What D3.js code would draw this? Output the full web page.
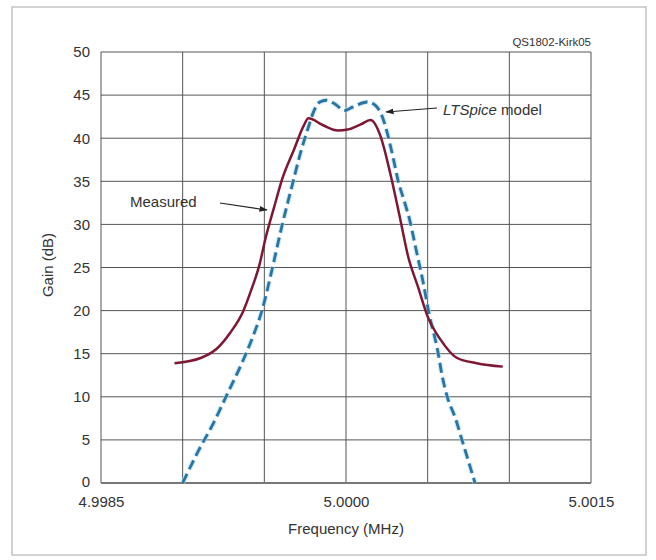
<!DOCTYPE html>
<html>
<head>
<meta charset="utf-8">
<script src="https://cdn.jsdelivr.net/npm/d3@7"></script>
<style>
  body { margin: 0; background: #fff; }
  svg text { font-family: "Liberation Sans", Arial, sans-serif; fill: #333; }
</style>
</head>
<body>
<svg id="chart" width="656" height="560"></svg>
<script>
// tick values
var freqGrid = [4.9985, 4.9990, 4.9995, 5.0000, 5.0005, 5.0010, 5.0015];
var freqLabels = [4.9985, 5.0000, 5.0015];
var gainTicks = [0, 5, 10, 15, 20, 25, 30, 35, 40, 45, 50];

// measured response (MHz, dB)
var measuredFreq = [4.99895, 4.99911, 4.99921, 4.99929, 4.99937, 4.99942, 4.99947, 4.99951,
  4.99956, 4.99961, 4.99968, 4.99974, 4.99977, 4.99986, 4.99995, 5.00001, 5.00009, 5.00015,
  5.00021, 5.00027, 5.00033, 5.00038, 5.00044, 5.00050, 5.00058, 5.00068, 5.00080, 5.00096];
var measuredGain = [13.9, 14.5, 15.6, 17.4, 19.9, 22.4, 25.3, 28.6,
  32.0, 35.3, 38.6, 41.4, 42.3, 41.5, 40.9, 41.0, 41.6, 42.1,
  40.3, 36.0, 30.8, 26.3, 22.8, 19.3, 16.6, 14.5, 13.9, 13.5];

// LTSpice model (MHz, dB)
var spiceFreq = [4.99900, 4.99909, 4.99919, 4.99928, 4.99936, 4.99942, 4.99949, 4.99955,
  4.99961, 4.99967, 4.99972, 4.99977, 4.99980, 4.99984, 4.99988, 4.99993, 4.99999, 5.00004,
  5.00013, 5.00018, 5.00022, 5.00025, 5.00029, 5.00032, 5.00036, 5.00039, 5.00043, 5.00047,
  5.00051, 5.00056, 5.00059, 5.00062, 5.00067, 5.00071, 5.00079];
var spiceGain = [0, 3.5, 7.0, 10.6, 13.8, 16.5, 20.3, 25.0,
  30.0, 34.5, 38.2, 41.3, 43.0, 44.2, 44.4, 44.0, 43.2, 43.6,
  44.2, 43.8, 42.6, 40.8, 37.6, 35.0, 32.5, 30.5, 27.0, 23.5,
  19.5, 15.5, 12.3, 10.0, 7.5, 5.0, 0];

var svg = d3.select('#chart');
var plot = { left: 101, right: 591, top: 52, bottom: 483 };

var x = d3.scaleLinear().domain([4.9985, 5.0015]).range([plot.left, plot.right]);
var y = d3.scaleLinear().domain([0, 50]).range([plot.bottom, plot.top]);

// outer frame
svg.append('rect')
  .attr('x', 12).attr('y', 7)
  .attr('width', 634).attr('height', 548)
  .attr('fill', '#fff')
  .attr('stroke', '#c4c4c4')
  .attr('stroke-width', 1.5);

// grid
var grid = svg.append('g').attr('class', 'grid');
grid.selectAll('line.v')
    .data(freqGrid)
  .enter().append('line')
    .attr('class', 'v')
    .attr('x1', function(d) { return x(d); })
    .attr('x2', function(d) { return x(d); })
    .attr('y1', plot.top).attr('y2', plot.bottom)
    .attr('stroke', '#555').attr('stroke-width', 1);
grid.selectAll('line.h')
    .data(gainTicks)
  .enter().append('line')
    .attr('class', 'h')
    .attr('x1', plot.left).attr('x2', plot.right)
    .attr('y1', function(d) { return y(d); })
    .attr('y2', function(d) { return y(d); })
    .attr('stroke', '#555').attr('stroke-width', 1);

// axes (labels only)
var xAxis = svg.append('g')
  .attr('transform', 'translate(0,' + plot.bottom + ')')
  .call(d3.axisBottom(x).tickValues(freqLabels).tickFormat(d3.format('.4f')).tickSize(0).tickPadding(13));
var yAxis = svg.append('g')
  .attr('transform', 'translate(' + plot.left + ',0)')
  .call(d3.axisLeft(y).tickValues(gainTicks).tickSize(0).tickPadding(11));
[xAxis, yAxis].forEach(function(a) {
  a.select('.domain').remove();
  a.selectAll('text').style('font-size', '15px').attr('fill', '#333');
});
// lift the zero label a little so it clears the first frequency label
yAxis.selectAll('.tick text').filter(function(d) { return d === 0; }).attr('dy', '0.2em');

svg.append('line')
  .attr('x1', plot.left).attr('x2', plot.right)
  .attr('y1', plot.bottom).attr('y2', plot.bottom)
  .attr('stroke', '#777').attr('stroke-width', 2);

// axis titles
svg.append('text')
  .attr('x', (plot.left + plot.right) / 2).attr('y', 534)
  .attr('text-anchor', 'middle')
  .style('font-size', '15px')
  .text('Frequency (MHz)');
svg.append('text')
  .attr('transform', 'translate(53,265) rotate(-90)')
  .attr('text-anchor', 'middle')
  .style('font-size', '15px')
  .text('Gain (dB)');
svg.append('text')
  .attr('x', plot.right).attr('y', 46)
  .attr('text-anchor', 'end')
  .style('font-size', '11.5px')
  .text('QS1802-Kirk05');

// curves
var line = d3.line()
  .x(function(d) { return x(d[0]); })
  .y(function(d) { return y(d[1]); })
  .curve(d3.curveMonotoneX);

var spice = d3.zip(spiceFreq, spiceGain);
var measured = d3.zip(measuredFreq, measuredGain);

svg.append('path')
  .attr('d', line(spice))
  .attr('fill', 'none')
  .attr('stroke', '#a9dcf0')
  .attr('stroke-width', 5)
  .attr('stroke-dasharray', '10,5')
  .attr('opacity', 0.6);
svg.append('path')
  .attr('d', line(spice))
  .attr('fill', 'none')
  .attr('stroke', '#2a74a4')
  .attr('stroke-width', 2.8)
  .attr('stroke-dasharray', '10,5');

svg.append('path')
  .attr('d', line(measured))
  .attr('fill', 'none')
  .attr('stroke', '#7d1733')
  .attr('stroke-width', 2.5);

// annotations
svg.append('defs').append('marker')
    .attr('id', 'arrow')
    .attr('viewBox', '0 0 10 10')
    .attr('refX', 9).attr('refY', 5)
    .attr('markerWidth', 7).attr('markerHeight', 7)
    .attr('orient', 'auto')
  .append('path')
    .attr('d', 'M0,1.5L10,5L0,8.5Z')
    .attr('fill', '#222');

svg.append('text')
  .attr('x', 130).attr('y', 207)
  .style('font-size', '15px')
  .text('Measured');
svg.append('line')
  .attr('x1', 220).attr('y1', 203)
  .attr('x2', 267).attr('y2', 210)
  .attr('stroke', '#222').attr('stroke-width', 1.2)
  .attr('marker-end', 'url(#arrow)');

var lt = svg.append('text')
  .attr('x', 443).attr('y', 115)
  .style('font-size', '15px');
lt.append('tspan').style('font-style', 'italic').text('LTSpice');
lt.append('tspan').text(' model');
svg.append('line')
  .attr('x1', 437).attr('y1', 108)
  .attr('x2', 386).attr('y2', 112)
  .attr('stroke', '#222').attr('stroke-width', 1.2)
  .attr('marker-end', 'url(#arrow)');
</script>
</body>
</html>
